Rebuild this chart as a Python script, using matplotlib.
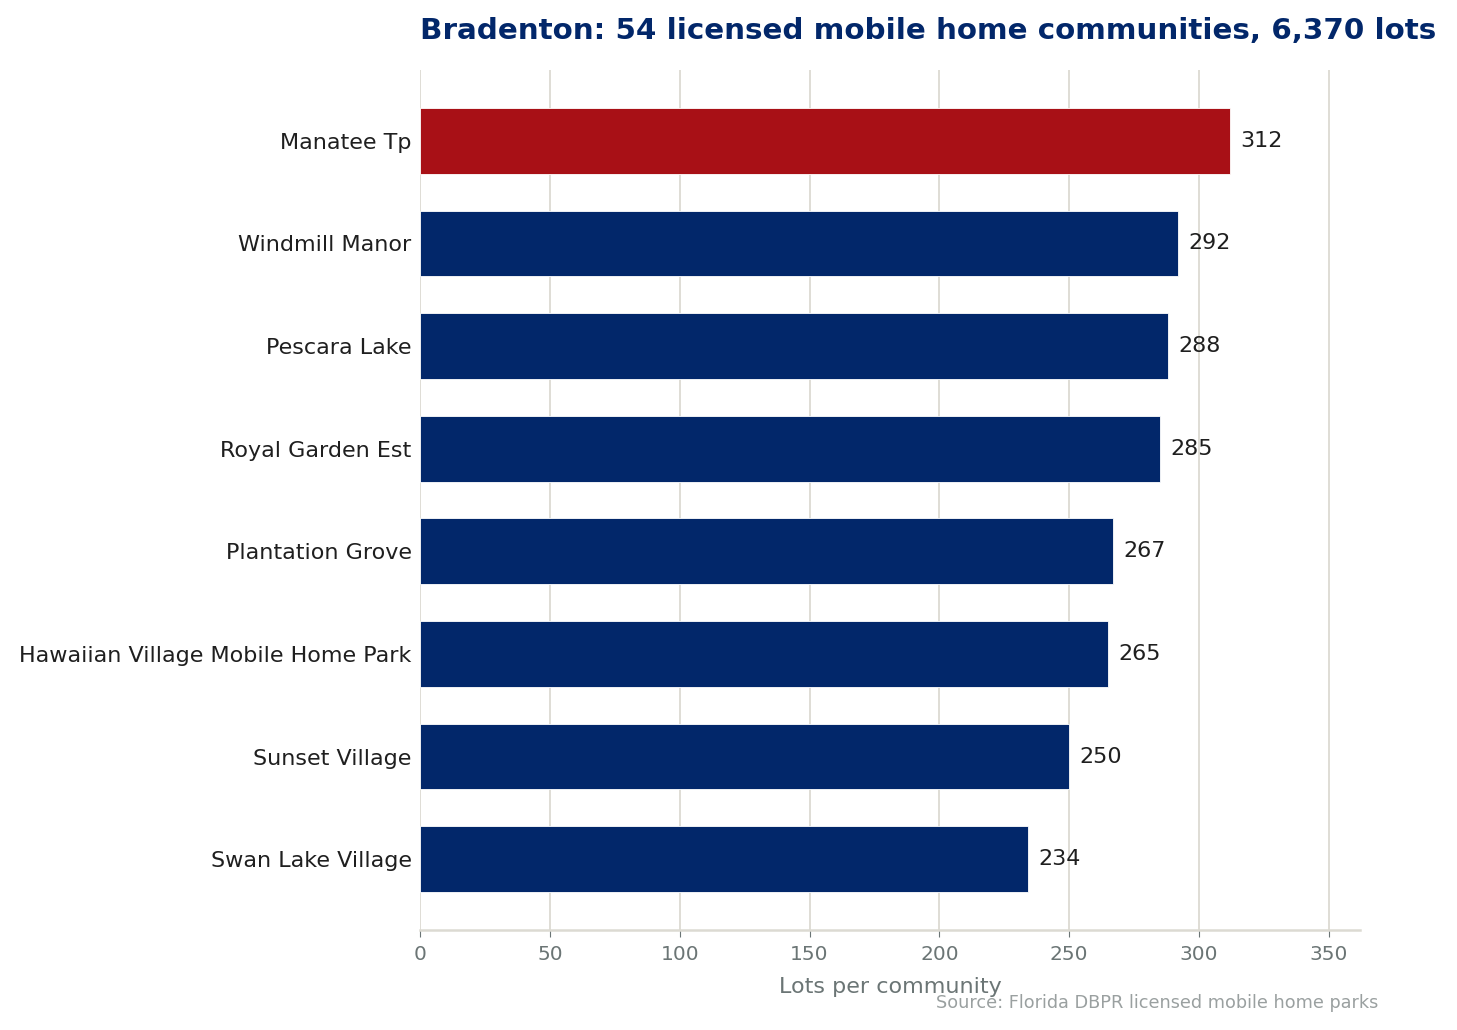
import matplotlib
matplotlib.use("Agg")
import matplotlib.pyplot as plt

# data
communities = ["Manatee Tp", "Windmill Manor", "Pescara Lake", "Royal Garden Est",
               "Plantation Grove", "Hawaiian Village Mobile Home Park",
               "Sunset Village", "Swan Lake Village"]
lots = [312, 292, 288, 285, 267, 265, 250, 234]
xticks = [0, 50, 100, 150, 200, 250, 300, 350]

NAVY = "#02276A"
RED = "#A81016"
GRID = "#DCDAD2"

fig = plt.figure(figsize=(14.57, 10.30), dpi=100)
ax = fig.add_axes([420 / 1457, 1 - 930 / 1030, 940 / 1457, 860 / 1030])

colors = [RED] + [NAVY] * (len(lots) - 1)
ypos = list(range(len(lots)))
ax.barh(ypos, lots, height=0.64, color=colors, edgecolor="white", linewidth=0.6, zorder=3)

for y, v in zip(ypos, lots):
    ax.text(v + 4, y, str(v), va="center", ha="left", fontsize=16, color="#1f1f1f")

ax.set_yticks(ypos)
ax.set_yticklabels(communities, fontsize=16, color="#1f1f1f")
ax.set_ylim(7.69, -0.69)
ax.set_xlim(0, 362)
ax.set_xticks(xticks)
ax.tick_params(axis="x", labelsize=14.5, colors="#6B7575", length=5, color="#6B7575", pad=6)
ax.tick_params(axis="y", length=0, pad=6)

ax.grid(axis="x", color=GRID, linewidth=1.3, zorder=0)
ax.set_axisbelow(True)
for side in ["top", "right", "left"]:
    ax.spines[side].set_visible(False)
ax.spines["bottom"].set_color(GRID)
ax.spines["bottom"].set_linewidth(1.8)

ax.set_xlabel("Lots per community", fontsize=16, color="#6B7575", labelpad=9)

fig.text(420 / 1457, 1 - 31 / 1030, "Bradenton: 54 licensed mobile home communities, 6,370 lots",
         fontsize=21.2, fontweight="bold", color=NAVY, ha="left", va="center")
fig.text(1378 / 1457, 1 - 1003 / 1030, "Source: Florida DBPR licensed mobile home parks",
         fontsize=12.7, color="#9AA0A0", ha="right", va="center")

fig.savefig("out.png", dpi=100)
